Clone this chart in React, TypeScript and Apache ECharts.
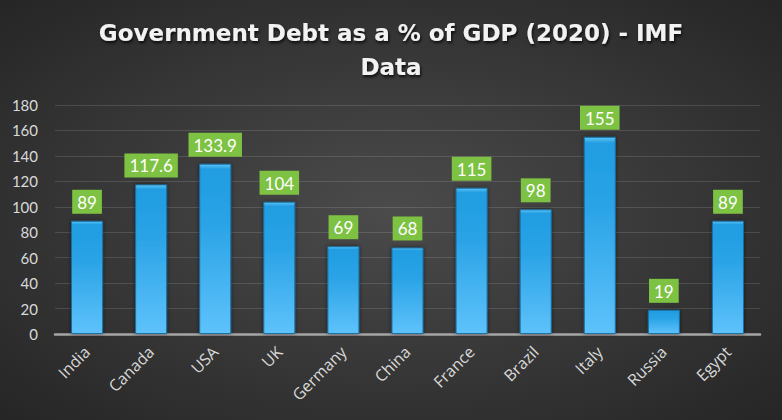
import React, { useEffect, useRef } from "react";
import * as echarts from "echarts";

const titleText = "Government Debt as a % of GDP (2020) - IMF\nData";
const countries = ["India", "Canada", "USA", "UK", "Germany", "China", "France", "Brazil", "Italy", "Russia", "Egypt"];
const debtPct = [89, 117.6, 133.9, 104, 69, 68, 115, 98, 155, 19, 89];
const yTicks = { min: 0, max: 180, interval: 20 };

export default function App() {
  const ref = useRef<HTMLDivElement>(null);
  useEffect(() => {
    document.body.style.margin = "0";
    const chart = echarts.init(ref.current!, null, { renderer: "svg" });
    chart.setOption({
      animation: false,
      backgroundColor: {
        type: "radial",
        x: 0.5,
        y: 0.5,
        r: 0.75,
        colorStops: [
          { offset: 0, color: "#4b4b4b" },
          { offset: 1, color: "#232323" },
        ],
      },
      title: {
        text: titleText,
        left: "center",
        top: 11,
        padding: [5, 5, 5, 19],
        textStyle: {
          color: "#f2f2f2",
          fontFamily: "DejaVu Sans",
          fontWeight: "bold",
          fontSize: 23,
          lineHeight: 34,
          textShadowColor: "rgba(0,0,0,0.8)",
          textShadowBlur: 3,
          textShadowOffsetX: 1,
          textShadowOffsetY: 2,
        },
      },
      grid: { left: 55, right: 22, top: 105, bottom: 86, containLabel: false },
      xAxis: {
        type: "category",
        data: countries,
        axisLine: { lineStyle: { color: "#a6a6a6", width: 2.5 } },
        axisTick: { show: false },
        axisLabel: {
          rotate: 45,
          color: "#d9d9d9",
          fontFamily: "Open Sans",
          fontSize: 16,
          margin: 15,
          interval: 0,
        },
      },
      yAxis: {
        type: "value",
        min: yTicks.min,
        max: yTicks.max,
        interval: yTicks.interval,
        axisLine: { show: false },
        axisTick: { show: false },
        axisLabel: { color: "#d9d9d9", fontFamily: "Lato", fontSize: 15, margin: 17 },
        splitLine: { lineStyle: { color: "rgba(255,255,255,0.13)", width: 1 } },
      },
      series: [
        {
          type: "bar",
          data: debtPct,
          barWidth: "50%",
          itemStyle: {
            color: {
              type: "linear",
              x: 0,
              y: 0,
              x2: 0,
              y2: 1,
              colorStops: [
                { offset: 0, color: "#5fc6f7" },
                { offset: 0.03, color: "#209de2" },
                { offset: 0.35, color: "#2aa3e6" },
                { offset: 1, color: "#5ec2fb" },
              ],
            },
            borderColor: "#1a6fa3",
            borderWidth: 1,
            shadowColor: "rgba(0,0,0,0.5)",
            shadowBlur: 4,
          },
          label: {
            show: true,
            position: "top",
            distance: 7,
            color: "#ffffff",
            fontFamily: "Lato",
            fontSize: 17,
            backgroundColor: "#7dc242",
            padding: [4, 5, 3, 5],
          },
        },
      ],
    });
    return () => chart.dispose();
  }, []);
  return <div ref={ref} style={{ position: "absolute", left: 0, top: 0, width: 782, height: 420 }} />;
}
